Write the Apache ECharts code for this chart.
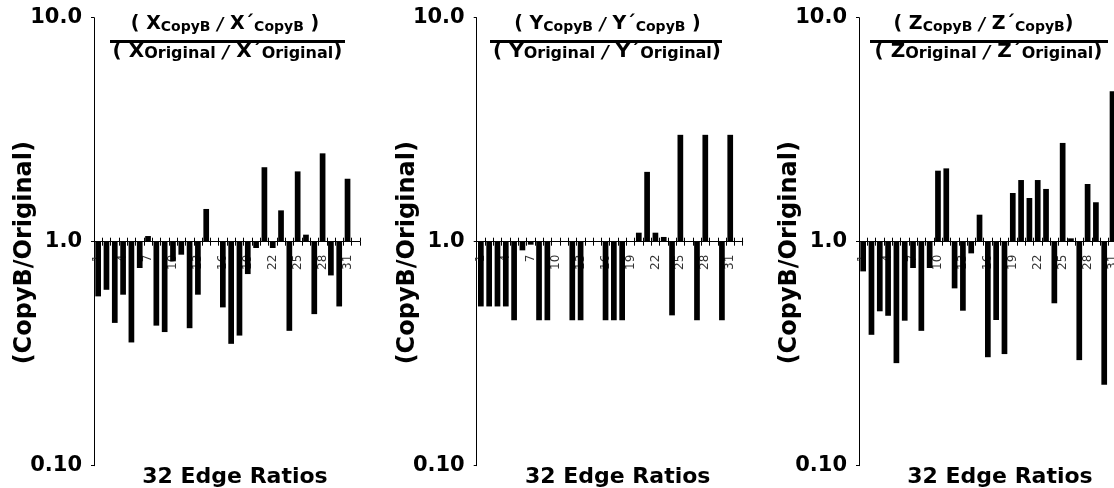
<!DOCTYPE html>
<html><head><meta charset="utf-8">
<script src="https://cdn.jsdelivr.net/npm/echarts@6/dist/echarts.min.js"></script>
<style>html,body{margin:0;padding:0;background:#fff}#c{width:1114px;height:488px}</style>
</head><body><div id="c"></div>
<script>
// ---- data ----
const categories = ['1','2','3','4','5','6','7','8','9','10','11','12','13','14','15','16',
  '17','18','19','20','21','22','23','24','25','26','27','28','29','30','31','32'];
const xRatios = [0.570,0.610,0.434,0.580,0.355,0.763,1.06,0.422,0.395,0.817,0.875,0.411,0.580,1.40,1.0,0.509,
  0.350,0.381,0.717,0.937,2.15,0.937,1.38,0.400,2.06,1.075,0.475,2.48,0.707,0.514,1.91,1.0];
const yRatios = [0.514,0.514,0.514,0.514,0.446,0.915,0.97,0.446,0.446,1.0,1.0,0.446,0.446,1.0,1.0,0.446,
  0.446,0.446,1.0,1.097,2.05,1.097,1.05,0.469,3.0,1.0,0.446,3.0,1.0,0.446,3.0,1.0];
const zRatios = [0.737,0.384,0.489,0.467,0.287,0.444,0.763,0.400,0.763,2.075,2.125,0.619,0.492,0.887,1.32,0.305,
  0.447,0.315,1.65,1.885,1.567,1.885,1.72,0.531,2.76,1.035,0.296,1.81,1.50,0.230,4.69,1.0];
const yTickLabels = ['0.10','1.0','10.0'];
const yAxisName = '(CopyB/Original)';
const xAxisTitle = '32 Edge Ratios';
const numerators = [
  '{b|( X}{s|CopyB}{b| }{i|/}{b| X´}{s|CopyB}{b| )}',
  '{b|( Y}{s|CopyB}{b| }{i|/}{b| Y´}{s|CopyB}{b| )}',
  '{b|( Z}{s|CopyB}{b| }{i|/}{b| Z´}{s|CopyB}{b|)}'
];
const denominators = [
  '{b|( X}{s|Original}{b| }{i|/}{b| X´}{s|Original}{b|)}',
  '{b|( Y}{s|Original}{b| }{i|/}{b| Y´}{s|Original}{b|)}',
  '{b|( Z}{s|Original}{b| }{i|/}{b| Z´}{s|Original}{b|)}'
];
const allRatios = [xRatios, yRatios, zRatios];

// ---- layout ----
const PANEL_LEFT = [94, 476.7, 859];
const GRID_TOP = 17.7, GRID_H = 448, GRID_W = 266;
const NUM_CX = [225, 607.5, 983.5];
const DEN_CX = [227.5, 607, 988.5];
const LINE_X = [[110, 345], [490, 722], [870, 1108]];
const FONT = 'DejaVu Sans';

function makeRich(big, sub) {
  return {
    b: {fontFamily: FONT, fontWeight: 'bold', fontSize: big, fill: '#000', verticalAlign: 'bottom'},
    i: {fontFamily: FONT, fontWeight: 'bold', fontStyle: 'italic', fontSize: big - 2, fill: '#000', verticalAlign: 'bottom'},
    s: {fontFamily: FONT, fontWeight: 'bold', fontSize: sub, fill: '#000', verticalAlign: 'bottom'}
  };
}
const richNum = makeRich(19, 14);
const richDen = makeRich(20, 16);

const grid = [], xAxis = [], yAxis = [], series = [], graphic = [];
PANEL_LEFT.forEach((left, i) => {
  grid.push({left: left, top: GRID_TOP, width: GRID_W, height: GRID_H, containLabel: false, outerBoundsMode: 'none'});
  xAxis.push({
    type: 'category', gridIndex: i, data: categories, position: 'bottom', offset: -GRID_H / 2,
    boundaryGap: true,
    axisLine: {show: true, onZero: false, lineStyle: {color: '#000', width: 1}},
    axisTick: {show: true, interval: 0, length: 4, lineStyle: {color: '#000', width: 1}},
    axisLabel: {show: true, interval: 2, rotate: 90, margin: 13, fontSize: 12, fontFamily: FONT, color: '#333'},
    splitLine: {show: false}
  });
  xAxis.push({
    type: 'category', gridIndex: i, data: categories, position: 'bottom', offset: -GRID_H / 2,
    boundaryGap: true,
    axisLine: {show: false, onZero: false},
    axisTick: {show: true, inside: true, interval: 0, length: 4, lineStyle: {color: '#000', width: 1}},
    axisLabel: {show: false},
    splitLine: {show: false}
  });
  yAxis.push({
    type: 'log', logBase: 10, gridIndex: i, min: 0.1, max: 10, interval: 1,
    axisLine: {show: true, lineStyle: {color: '#000', width: 1}},
    axisTick: {show: true, length: 3, lineStyle: {color: '#000'}},
    splitLine: {show: false},
    axisLabel: {
      margin: 12, fontFamily: FONT, fontWeight: 'bold', fontSize: 21, color: '#000',
      formatter: v => yTickLabels[Math.round(Math.log10(v)) + 1]
    },
    name: yAxisName, nameLocation: 'middle', nameGap: 57, nameMoveOverlap: false,
    nameTextStyle: {fontFamily: FONT, fontWeight: 'bold', fontSize: 24, color: '#000', padding: [0, 22, 0, 0]}
  });
  series.push({
    type: 'bar', xAxisIndex: 2 * i, yAxisIndex: i, data: allRatios[i],
    barWidth: 5.7, itemStyle: {color: '#000'}, silent: true
  });
  graphic.push({type: 'text', silent: true, style: {text: numerators[i], x: NUM_CX[i], y: 34, align: 'center', verticalAlign: 'bottom', rich: richNum}});
  graphic.push({type: 'rect', silent: true, shape: {x: LINE_X[i][0], y: 40, width: LINE_X[i][1] - LINE_X[i][0], height: 3}, style: {fill: '#000'}});
  graphic.push({type: 'text', silent: true, style: {text: denominators[i], x: DEN_CX[i], y: 62, align: 'center', verticalAlign: 'bottom', rich: richDen}});
  graphic.push({type: 'text', silent: true, style: {text: xAxisTitle, x: left + 141, y: 477, align: 'center', verticalAlign: 'middle',
    fontFamily: FONT, fontWeight: 'bold', fontSize: 22, fill: '#000'}});
});

const chart = echarts.init(document.getElementById('c'), null, {renderer: 'canvas'});
chart.setOption({animation: false, backgroundColor: '#fff', grid, xAxis, yAxis, series, graphic});
</script></body></html>
